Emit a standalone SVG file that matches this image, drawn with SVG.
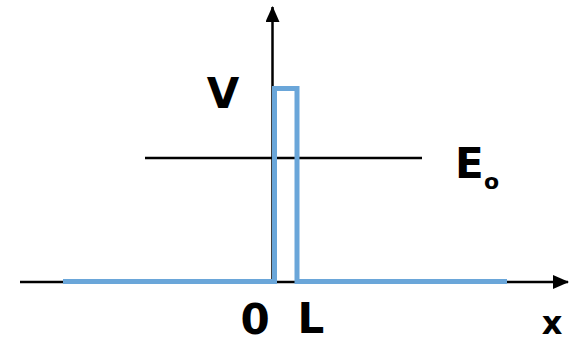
<svg xmlns="http://www.w3.org/2000/svg" width="572" height="343" viewBox="0 0 572 343">
<defs>
<style>
.ax{stroke:#000;stroke-width:2.5;fill:none}
.bar{stroke:#6aa6d9;stroke-width:5;fill:none;stroke-linejoin:miter}
.lbl{font-family:"DejaVu Sans","Liberation Sans",sans-serif;font-weight:bold;fill:#000}
</style>
<marker id="ah" viewBox="0 0 16 14" refX="15" refY="7" markerWidth="16" markerHeight="14" markerUnits="userSpaceOnUse" orient="auto">
<path d="M0,0 L16,7 L0,14 Z" fill="#000"/>
</marker>
</defs>
<rect width="572" height="343" fill="#fff"/>
<g id="connectors">
<line class="ax" x1="20" y1="282" x2="568" y2="282" marker-end="url(#ah)"/>
<line class="ax" x1="272.5" y1="282" x2="272.5" y2="7" marker-end="url(#ah)"/>
<line class="ax" x1="145" y1="158" x2="422" y2="158"/>
</g>
<g id="barrier">
<path class="bar" d="M63,281.5 H274.5 V88.5 H297 V281.5 H507"/>
</g>
<g id="labels">
<text class="lbl" x="223" y="108" font-size="42" text-anchor="middle">V</text>
<text class="lbl" x="455" y="178" font-size="42">E</text>
<text class="lbl" x="484" y="189" font-size="22">o</text>
<text class="lbl" x="255" y="334" font-size="42" text-anchor="middle">0</text>
<text class="lbl" x="311" y="333" font-size="42" text-anchor="middle">L</text>
<text class="lbl" x="552" y="334" font-size="32" text-anchor="middle">x</text>
</g>
</svg>
